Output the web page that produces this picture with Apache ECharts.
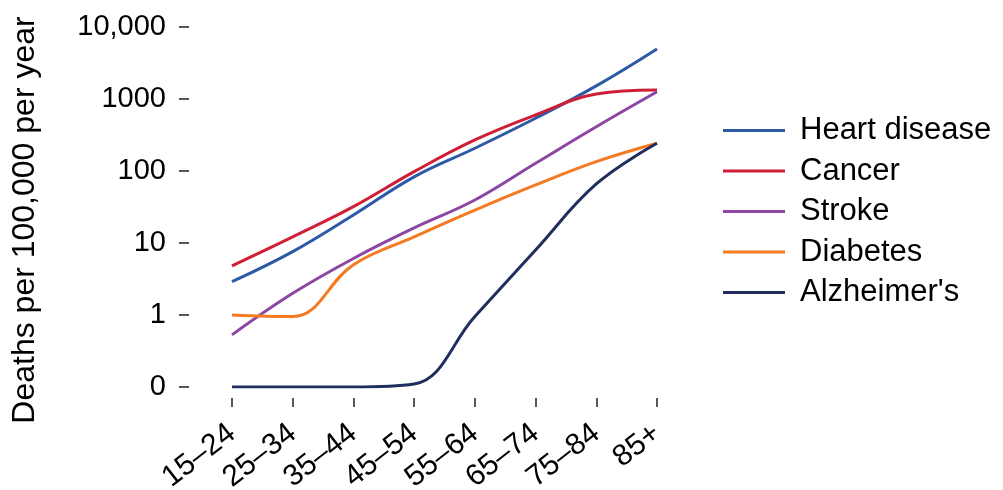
<!DOCTYPE html>
<html>
<head>
<meta charset="utf-8">
<title>Deaths per 100,000 per year</title>
<script src="https://cdn.jsdelivr.net/npm/echarts@6/dist/echarts.min.js"></script>
<style>
	html, body { margin: 0; padding: 0; background: #fff; }
	#chartDeaths { width: 1003px; height: 490px; }
</style>
</head>
<body>
<div id="chartDeaths"></div>
<script>
	// 年龄段
	var ageGroups = ['15–24', '25–34', '35–44', '45–54', '55–64', '65–74', '75–84', '85+'];
	// 每10万人死亡数 (读自原图, 对数坐标)
	var heartDisease = [2.9, 7.6, 24.5, 83, 207, 540, 1520, 4950];
	var cancer = [4.8, 12.2, 32, 98, 270, 600, 1170, 1330];
	var stroke = [0.53, 2.0, 6.1, 16.2, 39.5, 128, 412, 1260];
	var diabetes = [1.0, 0.95, 5.0, 12.2, 28.7, 64, 135, 243];
	var alzheimers = [0.1, 0.1, 0.1, 0.11, 0.95, 8.0, 66, 243];
	// 纵轴刻度
	var yTicks = [0.1, 1, 10, 100, 1000, 10000];
	var yTickLabels = ['0', '1', '10', '100', '1000', '10,000'];

	var fontName = '"Liberation Sans", Arial, Helvetica, sans-serif';

	function tickLabel(v) {
		for (var i = 0; i < yTicks.length; i++) {
			if (Math.abs(Math.log10(v) - Math.log10(yTicks[i])) < 0.01) {
				return yTickLabels[i];
			}
		}
		return '';
	}

	function lineSeries(name, data, color) {
		return {
			name: name,
			type: 'line',
			data: data,
			smooth: 0.4,
			showSymbol: false,
			symbol: 'none',
			color: color,
			lineStyle: { width: 3, color: color }
		};
	}

	var myChart = echarts.init(document.getElementById('chartDeaths'));
	myChart.setOption({
		animation: false,
		backgroundColor: '#fff',
		textStyle: { fontFamily: fontName },
		grid: {
			left: 232,
			right: 346,
			top: 27,
			bottom: 103,
			containLabel: false,
			outerBoundsMode: 'none'
		},
		legend: {
			orient: 'vertical',
			left: 718,
			top: 110,
			icon: 'rect',
			itemWidth: 62,
			itemHeight: 3,
			itemGap: 9.5,
			data: ['Heart disease', 'Cancer', 'Stroke', 'Diabetes', "Alzheimer's"],
			textStyle: {
				fontFamily: fontName,
				fontSize: 31,
				lineHeight: 30,
				color: '#000',
				padding: [0, 0, 0, 10]
			}
		},
		xAxis: {
			type: 'category',
			boundaryGap: false,
			data: ageGroups,
			offset: 11,
			axisLine: { show: false },
			axisTick: {
				show: true,
				alignWithLabel: true,
				length: 9,
				lineStyle: { color: '#222', width: 1.5 }
			},
			axisLabel: {
				interval: 0,
				rotate: 38,
				margin: 32,
				fontFamily: fontName,
				fontSize: 30,
				color: '#000'
			},
			splitLine: { show: false }
		},
		yAxis: {
			type: 'log',
			logBase: 10,
			min: 0.1,
			max: 10000,
			offset: 43,
			name: 'Deaths per 100,000 per year',
			nameLocation: 'middle',
			nameRotate: 90,
			nameGap: 148,
			nameTextStyle: {
				fontFamily: fontName,
				fontSize: 32,
				color: '#000',
				padding: [0, 26, 0, 0]
			},
			axisLine: { show: false },
			axisTick: {
				show: true,
				length: 10,
				lineStyle: { color: '#222', width: 1.5 }
			},
			axisLabel: {
				margin: 23,
				fontFamily: fontName,
				fontSize: 29,
				color: '#000',
				formatter: tickLabel
			},
			splitLine: { show: false },
			minorTick: { show: false }
		},
		series: [
			lineSeries('Heart disease', heartDisease, '#2d5aa6'),
			lineSeries('Cancer', cancer, '#cf1f36'),
			lineSeries('Stroke', stroke, '#8c46a3'),
			lineSeries('Diabetes', diabetes, '#f47b22'),
			lineSeries("Alzheimer's", alzheimers, '#1f2e5c')
		]
	});

	window.addEventListener('resize', function () {
		myChart.resize();
	});
</script>
</body>
</html>
